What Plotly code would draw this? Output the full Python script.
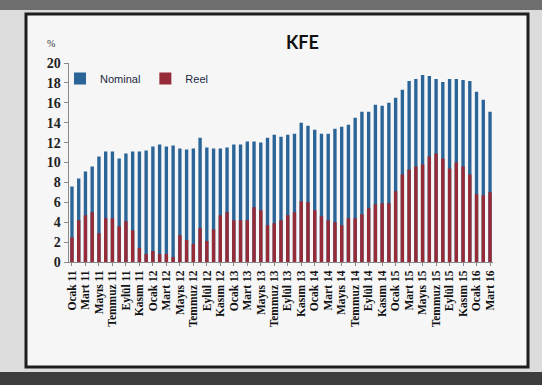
import plotly.graph_objects as go

# ---- data ----
month_names = ["Ocak", "Şubat", "Mart", "Nisan", "Mayıs", "Haziran",
               "Temmuz", "Ağustos", "Eylül", "Ekim", "Kasım", "Aralık"]
categories = []
for yy in range(11, 17):
    for m in month_names:
        categories.append(f"{m} {yy}")
categories = categories[:63]  # Ocak 11 .. Mart 16

nominal = [7.6, 8.4, 9.1, 9.6, 10.6, 11.1, 11.1, 10.4, 10.9, 11.1, 11.1, 11.2,
           11.6, 11.8, 11.6, 11.7, 11.4, 11.3, 11.4, 12.5, 11.5, 11.4, 11.4, 11.5,
           11.8, 11.8, 12.1, 12.1, 12.0, 12.5, 12.8, 12.6, 12.8, 12.9, 14.0, 13.7,
           13.3, 12.9, 12.9, 13.4, 13.6, 13.8, 14.5, 15.1, 15.1, 15.8, 15.7, 16.0,
           16.5, 17.3, 18.2, 18.4, 18.8, 18.7, 18.4, 18.1, 18.4, 18.4, 18.3, 18.2,
           17.1, 16.3, 15.1]
reel = [2.5, 4.2, 4.7, 5.0, 2.9, 4.4, 4.4, 3.6, 4.1, 3.2, 1.4, 0.8,
        1.1, 0.8, 0.8, 0.5, 2.7, 2.2, 1.8, 3.4, 2.1, 3.3, 4.7, 5.0,
        4.2, 4.2, 4.2, 5.5, 5.2, 3.7, 3.9, 4.2, 4.7, 5.0, 6.1, 6.0,
        5.2, 4.6, 4.2, 4.0, 3.7, 4.4, 4.4, 4.8, 5.4, 5.8, 5.9, 5.9,
        7.1, 8.8, 9.3, 9.6, 9.8, 10.6, 10.9, 10.4, 9.4, 10.0, 9.6, 8.8,
        6.8, 6.7, 7.0]
tick_labels = categories[::2]
y_ticks = list(range(0, 21, 2))

# ---- geometry helpers (pixels -> paper) ----
W, H = 542, 385
def px(x):
    return x / W
def py(y):
    return 1 - y / H

fig = go.Figure()
fig.add_trace(go.Bar(x=categories, y=nominal, name="Nominal",
                     marker=dict(color="#2b6598", line=dict(width=0))))
fig.add_trace(go.Bar(x=categories, y=reel, name="Reel",
                     marker=dict(color="#962a36", line=dict(width=0))))

shapes = [
    # photo frame bands
    dict(type="rect", xref="paper", yref="paper", x0=0, x1=1, y0=py(0), y1=py(10),
         fillcolor="#6e6e6e", line=dict(width=0), layer="below"),
    dict(type="rect", xref="paper", yref="paper", x0=0, x1=1, y0=py(372), y1=py(385),
         fillcolor="#3c3c3c", line=dict(width=0), layer="below"),
    # chart box
    dict(type="rect", xref="paper", yref="paper", x0=px(26), x1=px(528),
         y0=py(367), y1=py(14), fillcolor="#f6f6f7",
         line=dict(color="#1e1e1e", width=3), layer="below"),
]

fig.update_layout(
    template="none",
    width=W, height=H,
    margin=dict(l=0, r=0, t=0, b=0),
    paper_bgcolor="#dcdcdc",
    plot_bgcolor="rgba(0,0,0,0)",
    barmode="overlay",
    bargap=0.5,
    shapes=shapes,
    showlegend=True,
    legend=dict(orientation="h", x=px(60), y=py(64), xanchor="left", yanchor="top",
                bgcolor="rgba(0,0,0,0)",
                font=dict(family="Liberation Sans", size=11, color="#1a2a40"),
                itemwidth=30, traceorder="normal"),
    annotations=[
        dict(text="<b>KFE</b>", xref="paper", yref="paper", x=px(302), y=py(42),
             showarrow=False, font=dict(family="Lato", size=18, color="#111"),
             xanchor="center", yanchor="middle"),
        dict(text="%", xref="paper", yref="paper", x=px(51), y=py(43),
             showarrow=False, font=dict(family="Liberation Serif", size=10, color="#333"),
             xanchor="center", yanchor="middle"),
    ],
    xaxis=dict(
        domain=[px(68.6), px(493.4)],
        type="category",
        range=[-0.5, 62.5],
        tickmode="array", tickvals=tick_labels, ticktext=tick_labels,
        tickangle=-90,
        tickfont=dict(family="Liberation Serif", size=11.5, color="#111", weight="bold"),
        showline=True, linecolor="#8a8a8a", linewidth=1,
        ticks="outside", ticklen=3, tickcolor="#8a8a8a",
        showgrid=False, zeroline=False, automargin=False,
    ),
    yaxis=dict(
        domain=[py(262), py(63)],
        range=[0, 20],
        tickmode="array", tickvals=y_ticks,
        tickfont=dict(family="Liberation Serif", size=14, color="#222", weight="bold"),
        showline=True, linecolor="#8a8a8a", linewidth=1,
        ticks="outside", ticklen=4, tickcolor="#8a8a8a",
        showgrid=False, zeroline=False, automargin=False,
    ),
)

fig.write_html("out.html")
